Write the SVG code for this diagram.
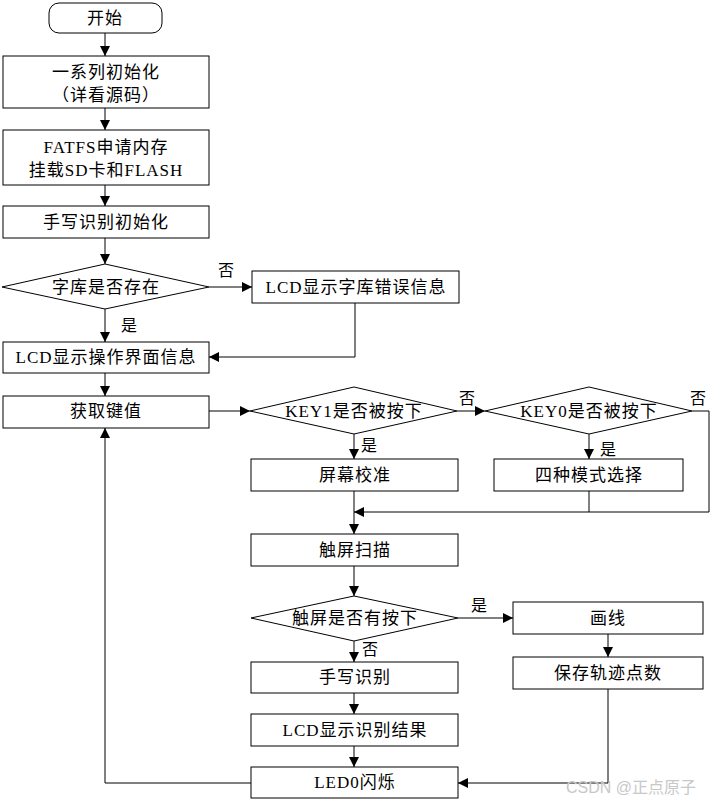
<svg xmlns="http://www.w3.org/2000/svg" width="719" height="804" viewBox="0 0 719 804">
<style>
.box{fill:#fff;stroke:#000;stroke-width:1}
.t{font-family:"Liberation Serif","Noto Sans CJK SC",serif;font-size:17px;fill:#000;text-anchor:middle;dominant-baseline:central;letter-spacing:1px}
.lbl{font-family:"Liberation Serif","Noto Sans CJK SC",serif;font-size:16px;fill:#000}
.c{fill:none;stroke:#000;stroke-width:1}
.wm{font-family:"Liberation Sans","Noto Sans CJK SC",sans-serif;font-size:16px;fill:#c8c8c8}
</style>
<defs>
<marker id="a" markerUnits="userSpaceOnUse" markerWidth="10" markerHeight="10" refX="10" refY="5" orient="auto">
<path d="M0,0 L10,5 L0,10 z" fill="#000"/>
</marker>
</defs>
<rect width="719" height="804" fill="#fff"/>
<g id="connectors">
<path class="c" d="M105,33 V56" marker-end="url(#a)"/>
<path class="c" d="M105,108 V130" marker-end="url(#a)"/>
<path class="c" d="M105,185 V206" marker-end="url(#a)"/>
<path class="c" d="M105,238 V264" marker-end="url(#a)"/>
<path class="c" d="M209,287 H252" marker-end="url(#a)"/>
<path class="c" d="M105,309 V342" marker-end="url(#a)"/>
<path class="c" d="M355,303 V357 H209" marker-end="url(#a)"/>
<path class="c" d="M105,373 V396" marker-end="url(#a)"/>
<path class="c" d="M209,411 H250" marker-end="url(#a)"/>
<path class="c" d="M457,411 H485" marker-end="url(#a)"/>
<path class="c" d="M354,434 V459" marker-end="url(#a)"/>
<path class="c" d="M589,434 V459" marker-end="url(#a)"/>
<path class="c" d="M692,411 H709 V512 H354" marker-end="url(#a)"/>
<path class="c" d="M589,491 V512"/>
<path class="c" d="M354,491 V534" marker-end="url(#a)"/>
<path class="c" d="M354,566 V596" marker-end="url(#a)"/>
<path class="c" d="M458,618 H513" marker-end="url(#a)"/>
<path class="c" d="M354,641 V662" marker-end="url(#a)"/>
<path class="c" d="M608,634 V657" marker-end="url(#a)"/>
<path class="c" d="M354,693 V714" marker-end="url(#a)"/>
<path class="c" d="M354,746 V767" marker-end="url(#a)"/>
<path class="c" d="M608,689 V783 H458" marker-end="url(#a)"/>
<path class="c" d="M251,783 H105 V428" marker-end="url(#a)"/>
<text class="lbl" x="218" y="276">否</text>
<text class="lbl" x="121" y="331">是</text>
<text class="lbl" x="459" y="404">否</text>
<text class="lbl" x="690" y="404">否</text>
<text class="lbl" x="361" y="451">是</text>
<text class="lbl" x="600" y="455">是</text>
<text class="lbl" x="471" y="611">是</text>
<text class="lbl" x="362" y="655">否</text>
</g>
<g id="start"><rect class="box" x="49" y="3" width="113" height="30" rx="10"/><text class="t" x="105" y="18">开始</text></g>
<g id="init"><rect class="box" x="3" y="56" width="206" height="52"/><text class="t" x="106" y="72">一系列初始化</text><text class="t" x="106" y="95">（详看源码）</text></g>
<g id="fatfs"><rect class="box" x="3" y="130" width="206" height="55"/><text class="t" x="106" y="147">FATFS申请内存</text><text class="t" x="106" y="170">挂载SD卡和FLASH</text></g>
<g id="hwinit"><rect class="box" x="3" y="206" width="206" height="32"/><text class="t" x="106" y="222">手写识别初始化</text></g>
<g id="fontq"><polygon class="box" points="105,264 209,287 105,309 2,287"/><text class="t" x="106" y="287">字库是否存在</text></g>
<g id="fonterr"><rect class="box" x="252" y="271" width="207" height="32"/><text class="t" x="356" y="287">LCD显示字库错误信息</text></g>
<g id="ui"><rect class="box" x="3" y="342" width="206" height="31"/><text class="t" x="106" y="357">LCD显示操作界面信息</text></g>
<g id="getkey"><rect class="box" x="3" y="396" width="206" height="32"/><text class="t" x="106" y="411">获取键值</text></g>
<g id="key1"><polygon class="box" points="354,387 457,411 354,434 250,411"/><text class="t" x="354" y="411">KEY1是否被按下</text></g>
<g id="key0"><polygon class="box" points="589,387 692,411 589,434 485,411"/><text class="t" x="589" y="411">KEY0是否被按下</text></g>
<g id="calib"><rect class="box" x="251" y="459" width="207" height="32"/><text class="t" x="355" y="475">屏幕校准</text></g>
<g id="mode"><rect class="box" x="494" y="459" width="189" height="32"/><text class="t" x="589" y="475">四种模式选择</text></g>
<g id="scan"><rect class="box" x="251" y="534" width="207" height="32"/><text class="t" x="355" y="550">触屏扫描</text></g>
<g id="pressq"><polygon class="box" points="354,596 458,618 354,641 251,618"/><text class="t" x="355" y="618">触屏是否有按下</text></g>
<g id="draw"><rect class="box" x="513" y="602" width="190" height="32"/><text class="t" x="608" y="618">画线</text></g>
<g id="save"><rect class="box" x="513" y="657" width="190" height="32"/><text class="t" x="608" y="673">保存轨迹点数</text></g>
<g id="recog"><rect class="box" x="251" y="662" width="207" height="31"/><text class="t" x="355" y="677">手写识别</text></g>
<g id="result"><rect class="box" x="251" y="714" width="207" height="32"/><text class="t" x="355" y="730">LCD显示识别结果</text></g>
<g id="led"><rect class="box" x="251" y="767" width="207" height="31"/><text class="t" x="355" y="782">LED0闪烁</text></g>
<text class="wm" x="566" y="793">CSDN @正点原子</text>
</svg>
